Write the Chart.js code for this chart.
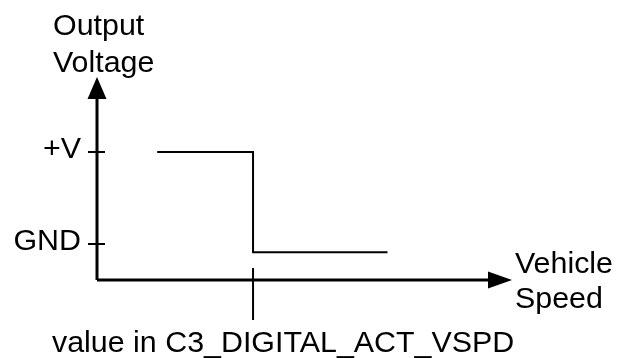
<!DOCTYPE html>
<html>
<head>
<meta charset="utf-8">
<script src="https://cdn.jsdelivr.net/npm/chart.js@4.4.0/dist/chart.umd.min.js"></script>
<style>
    html, body { margin: 0; padding: 0; background: #fff; }
    canvas { display: block; }
</style>
</head>
<body>
<canvas id="speed-chart" width="620" height="358"></canvas>
<script>
// --- DATA ---
const speedPoints = [1.45, 3.76, 3.76, 7.0];     // vehicle speed (arbitrary units)
const voltagePoints = [1, 1, -0.09, -0.09];      // 1 = +V, 0 = GND
const yTickValues = [1, 0];
const yTickLabels = ['+V', 'GND'];
const thresholdSpeed = 3.76;
const yAxisTitle = ['Output', 'Voltage'];
const xAxisTitle = ['Vehicle', 'Speed'];
const thresholdLabel = 'value in C3_DIGITAL_ACT_VSPD';

const FONT = '30.4px "Liberation Sans", Arial, sans-serif';

// axes, arrows, ticks and labels drawn from the chart's scales
const axesPlugin = {
    id: 'arrowAxes',
    afterDatasetsDraw(chart) {
        const { ctx, chartArea, scales } = chart;
        const x0 = scales.x.getPixelForValue(0);
        const y0 = chartArea.bottom;
        ctx.save();
        ctx.strokeStyle = '#000';
        ctx.fillStyle = '#000';

        // axis lines
        ctx.lineWidth = 3;
        ctx.beginPath();
        ctx.moveTo(x0, y0);
        ctx.lineTo(x0, chartArea.top + 20);
        ctx.moveTo(x0, y0);
        ctx.lineTo(chartArea.right - 22, y0);
        ctx.stroke();

        // arrowheads
        ctx.beginPath();
        ctx.moveTo(x0, chartArea.top);
        ctx.lineTo(x0 - 9.5, chartArea.top + 22);
        ctx.lineTo(x0 + 9.5, chartArea.top + 22);
        ctx.closePath();
        ctx.fill();
        ctx.beginPath();
        ctx.moveTo(chartArea.right, y0);
        ctx.lineTo(chartArea.right - 24, y0 - 8.5);
        ctx.lineTo(chartArea.right - 24, y0 + 8.5);
        ctx.closePath();
        ctx.fill();

        // y ticks
        ctx.lineWidth = 2;
        ctx.font = FONT;
        ctx.textAlign = 'right';
        ctx.textBaseline = 'middle';
        yTickValues.forEach((v, i) => {
            const y = scales.y.getPixelForValue(v);
            ctx.beginPath();
            ctx.moveTo(x0 - 9, y);
            ctx.lineTo(x0 + 8, y);
            ctx.stroke();
            ctx.fillText(yTickLabels[i], x0 - 16, y - 2);
        });

        // threshold tick across the x axis
        const xt = scales.x.getPixelForValue(thresholdSpeed);
        ctx.beginPath();
        ctx.moveTo(xt, y0 - 12);
        ctx.lineTo(xt, y0 + 40);
        ctx.stroke();

        // titles
        ctx.textAlign = 'left';
        ctx.textBaseline = 'alphabetic';
        ctx.fillText(yAxisTitle[0], 53, 35);
        ctx.fillText(yAxisTitle[1], 53, 72);
        ctx.fillText(xAxisTitle[0], 515, 273);
        ctx.fillText(xAxisTitle[1], 515, 308);
        ctx.fillText(thresholdLabel, 52, 352);
        ctx.restore();
    }
};

new Chart(document.getElementById('speed-chart'), {
    type: 'line',
    data: {
        datasets: [{
            data: speedPoints.map((s, i) => ({ x: s, y: voltagePoints[i] })),
            borderColor: '#000',
            borderWidth: 2,
            pointRadius: 0,
            fill: false,
            tension: 0
        }]
    },
    options: {
        responsive: false,
        animation: false,
        devicePixelRatio: 1,
        layout: { padding: { left: 97, right: 108, top: 77, bottom: 78 } },
        plugins: { legend: { display: false }, tooltip: { enabled: false } },
        scales: {
            x: { type: 'linear', min: 0, max: 10, display: false },
            y: { type: 'linear', min: -0.391, max: 1.815, display: false }
        }
    },
    plugins: [axesPlugin]
});
</script>
</body>
</html>
